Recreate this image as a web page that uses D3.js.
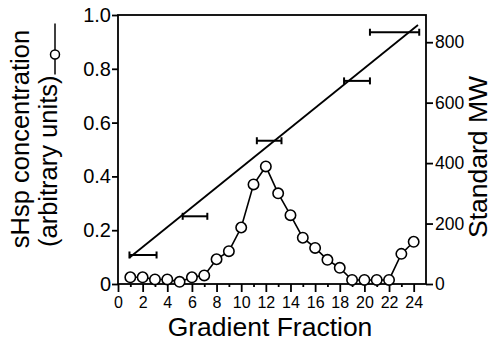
<!DOCTYPE html>
<html>
<head>
<meta charset="utf-8">
<script src="https://cdn.jsdelivr.net/npm/d3@7"></script>
<style>
  html, body { margin: 0; padding: 0; background: #fff; }
  svg { display: block; font-family: "Liberation Sans", Arial, Helvetica, sans-serif; }
</style>
</head>
<body>
<svg id="chart" width="493" height="344"></svg>
<script>
// Gradient fractions and the sHsp concentration measured in each
const fractions = [1, 2, 3, 4, 5, 6, 7, 8, 9, 10, 11, 12, 13, 14, 15, 16, 17, 18, 19, 20, 21, 22, 23, 24];
const shspConc = [0.025, 0.025, 0.017, 0.017, 0.008, 0.025, 0.032, 0.092, 0.122, 0.21, 0.37, 0.437,
                  0.337, 0.256, 0.172, 0.134, 0.09, 0.06, 0.015, 0.015, 0.015, 0.015, 0.112, 0.157];

// Molecular-weight standards: peak fraction, spread (half width) and MW
const stdFraction = [2.03, 6.25, 12.27, 19.4, 22.45];
const stdSpread = [1.1, 1.0, 1.0, 1.05, 2.0];
const stdMW = [96, 224, 474, 672, 833];

// Calibration line through the standards
const fitFraction = [0.92, 24.35];
const fitMW = [87, 857];

// Tick values
const xTicks = [0, 2, 4, 6, 8, 10, 12, 14, 16, 18, 20, 22, 24];
const xMinorTicks = [1, 3, 5, 7, 9, 11, 13, 15, 17, 19, 21, 23];
const leftTicks = [0, 0.2, 0.4, 0.6, 0.8, 1.0];
const rightTicks = [0, 200, 400, 600, 800];

const svg = d3.select("#chart");
const plotLeft = 118, plotRight = 426, plotTop = 15, plotBottom = 284;

const x = d3.scaleLinear().domain([0, 25]).range([plotLeft, plotRight]);
const yL = d3.scaleLinear().domain([0, 1]).range([plotBottom, plotTop]);
const yR = d3.scaleLinear().domain([0, 890]).range([plotBottom, plotTop]);

svg.append("rect").attr("width", 493).attr("height", 344).attr("fill", "#fff");

// Plot frame
svg.append("rect")
  .attr("x", plotLeft).attr("y", plotTop)
  .attr("width", plotRight - plotLeft).attr("height", plotBottom - plotTop)
  .attr("fill", "none").attr("stroke", "#000").attr("stroke-width", 1.8);

// Axes
const styleAxis = (g, size) => {
  g.select(".domain").remove();
  g.selectAll(".tick line").attr("stroke", "#000").attr("stroke-width", 1.8);
  g.selectAll(".tick text").attr("fill", "#000").attr("font-size", size)
    .attr("font-family", "'Liberation Sans', Arial, Helvetica, sans-serif");
};

svg.append("g")
  .attr("transform", `translate(${plotLeft},0)`)
  .call(d3.axisLeft(yL).tickValues(leftTicks)
    .tickFormat(d => d === 0 ? "0" : d3.format(".1f")(d))
    .tickSize(6).tickPadding(1))
  .call(g => styleAxis(g, 20));

svg.append("g")
  .attr("transform", `translate(${plotRight},0)`)
  .call(d3.axisRight(yR).tickValues(rightTicks).tickFormat(d3.format("d"))
    .tickSize(7).tickPadding(2))
  .call(g => styleAxis(g, 17.5));

svg.append("g")
  .attr("transform", `translate(0,${plotBottom})`)
  .call(d3.axisBottom(x).tickValues(xTicks).tickFormat(d3.format("d"))
    .tickSize(8).tickPadding(5))
  .call(g => styleAxis(g, 16));

svg.append("g")
  .attr("transform", `translate(0,${plotBottom})`)
  .call(d3.axisBottom(x).tickValues(xMinorTicks).tickFormat("").tickSize(3))
  .call(g => styleAxis(g, 16));

// Calibration line
const fitData = fitFraction.map((f, i) => [f, fitMW[i]]);
svg.append("path")
  .datum(fitData)
  .attr("fill", "none").attr("stroke", "#000").attr("stroke-width", 1.8)
  .attr("d", d3.line().x(d => x(d[0])).y(d => yR(d[1])));

// Standards with horizontal spread bars
const stds = stdFraction.map((f, i) => ({ f, s: stdSpread[i], mw: stdMW[i] }));
const sg = svg.append("g").attr("stroke", "#000").attr("stroke-width", 2);
sg.selectAll(".bar").data(stds).join("line")
  .attr("x1", d => x(d.f - d.s)).attr("x2", d => x(d.f + d.s))
  .attr("y1", d => yR(d.mw)).attr("y2", d => yR(d.mw));
sg.selectAll(".capL").data(stds).join("line")
  .attr("x1", d => x(d.f - d.s)).attr("x2", d => x(d.f - d.s))
  .attr("y1", d => yR(d.mw) - 3.5).attr("y2", d => yR(d.mw) + 3.5);
sg.selectAll(".capR").data(stds).join("line")
  .attr("x1", d => x(d.f + d.s)).attr("x2", d => x(d.f + d.s))
  .attr("y1", d => yR(d.mw) - 3.5).attr("y2", d => yR(d.mw) + 3.5);

// sHsp concentration profile
const profile = fractions.map((f, i) => [f, shspConc[i]]);
svg.append("path")
  .datum(profile)
  .attr("fill", "none").attr("stroke", "#000").attr("stroke-width", 1.6)
  .attr("d", d3.line().x(d => x(d[0])).y(d => yL(d[1])));
svg.append("g").selectAll("circle").data(profile).join("circle")
  .attr("cx", d => x(d[0])).attr("cy", d => yL(d[1])).attr("r", 5.2)
  .attr("fill", "#fff").attr("stroke", "#000").attr("stroke-width", 1.6);

// Axis titles
svg.append("text")
  .attr("x", 270).attr("y", 336)
  .attr("text-anchor", "middle").attr("font-size", 26.5)
  .text("Gradient Fraction");

svg.append("text")
  .attr("transform", "translate(487,157) rotate(-90)")
  .attr("text-anchor", "middle").attr("font-size", 26.5)
  .text("Standard MW");

svg.append("text")
  .attr("transform", "translate(29,139) rotate(-90)")
  .attr("text-anchor", "middle").attr("font-size", 25.5)
  .text("sHsp concentration");

// Second title line followed by the series key (line with open circle)
const t2 = svg.append("g").attr("transform", "translate(57,247) rotate(-90)");
const t2text = t2.append("text")
  .attr("x", 0).attr("y", 0).attr("font-size", 25.5)
  .text("(arbitrary units)");
const tl = t2text.node().getComputedTextLength();
t2.append("line")
  .attr("x1", tl + 1).attr("x2", tl + 52).attr("y1", -2).attr("y2", -2)
  .attr("stroke", "#000").attr("stroke-width", 1.5);
t2.append("circle")
  .attr("cx", tl + 21).attr("cy", -2).attr("r", 4.5)
  .attr("fill", "#fff").attr("stroke", "#000").attr("stroke-width", 1.5);
</script>
</body>
</html>
